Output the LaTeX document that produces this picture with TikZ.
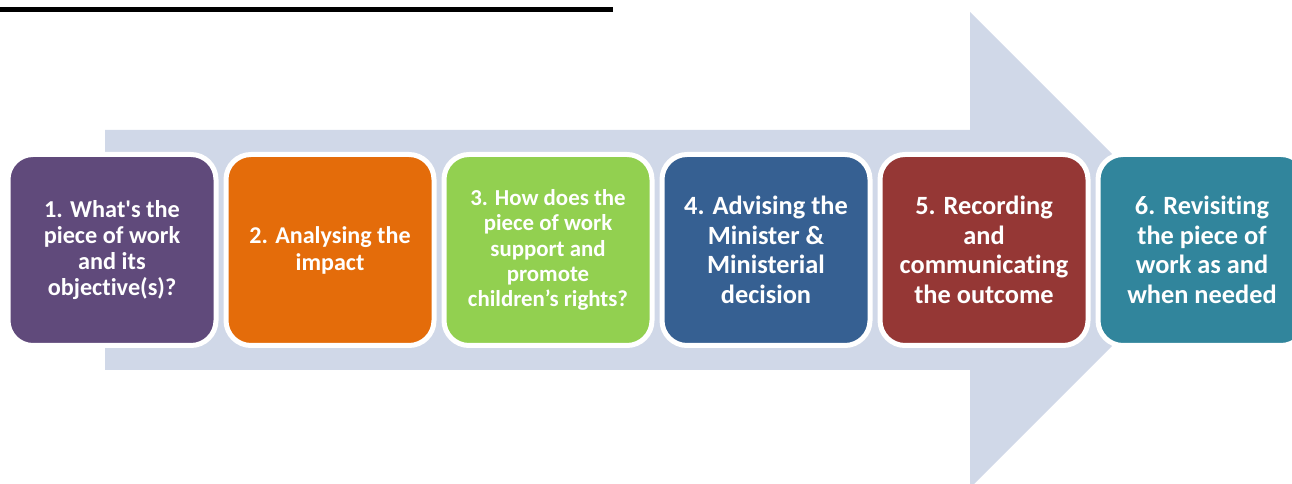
\documentclass[tikz,border=0pt]{standalone}
\usepackage{fontspec}
\setmainfont{Carlito}[Ligatures={TeX,NoCommon}]
\usepackage[usenames,dvipsnames]{xcolor}
\usepackage{tkz-euclide}
\usetikzlibrary{positioning}

\definecolor{arrowgrey}{HTML}{D0D8E8}
\definecolor{steppurple}{HTML}{604A7B}
\definecolor{steporange}{HTML}{E46C0A}
\definecolor{stepgreen}{HTML}{92D050}
\definecolor{stepblue}{HTML}{366092}
\definecolor{stepred}{HTML}{953735}
\definecolor{stepteal}{HTML}{31859C}

\tikzset{
  stepbox/.style={rounded corners=0.5cm, draw=white, line width=0.1cm,
    minimum width=4.16cm, minimum height=3.82cm, inner sep=0pt, outer sep=0pt,
    text=white, align=center},
  bigtext/.style={font=\fontsize{15}{16.8}\selectfont\bfseries},
  onetext/.style={font=\fontsize{13.8}{14.8}\selectfont\bfseries},
  twotext/.style={font=\fontsize{13.7}{15.4}\selectfont\bfseries},
  smalltext/.style={font=\fontsize{13}{14.4}\selectfont\bfseries}
}

\begin{document}
\begin{tikzpicture}
		\clip (0,0) rectangle (25.84,9.68);
		\tkzDefPoint(2.10,7.08){a1}\tkzDefPoint(19.40,7.08){a2}
		\tkzDefPoint(19.40,9.44){a3}\tkzDefPoint(24.16,4.68){a4}
		\tkzDefPoint(19.40,-0.08){a5}\tkzDefPoint(19.40,2.28){a6}
		\tkzDefPoint(2.10,2.28){a7}
		\tkzDefPoint(0,9.54){t1}\tkzDefPoint(12.26,9.44){t2}
		\tkzDefPoint(2.24,4.68){c1}
		% title underline
		\fill[black] (t1) rectangle (t2);
		% big arrow
		\fill[arrowgrey] (a1) -- (a2) -- (a3) -- (a4) -- (a5) -- (a6) -- (a7) -- cycle;
		% steps
		\node[stepbox, onetext, fill=steppurple] (b1) at (c1)
			{1. What\textquotesingle s the\\piece of work\\and its\\objective(s)?};
		\node[stepbox, twotext, fill=steporange, right=0.2cm of b1] (b2)
			{2. Analysing the\\impact};
		\node[stepbox, smalltext, fill=stepgreen, right=0.2cm of b2] (b3)
			{3. How does the\\piece of work\\support and\\promote\\children’s rights?};
		\node[stepbox, bigtext, fill=stepblue, right=0.2cm of b3] (b4)
			{4. Advising the\\Minister \&\\Ministerial\\decision};
		\node[stepbox, bigtext, fill=stepred, right=0.2cm of b4] (b5)
			{5. Recording\\and\\communicating\\the outcome};
		\node[stepbox, bigtext, fill=stepteal, right=0.2cm of b5] (b6)
			{6. Revisiting\\the piece of\\work as and\\when needed};
	\end{tikzpicture}
\end{document}
